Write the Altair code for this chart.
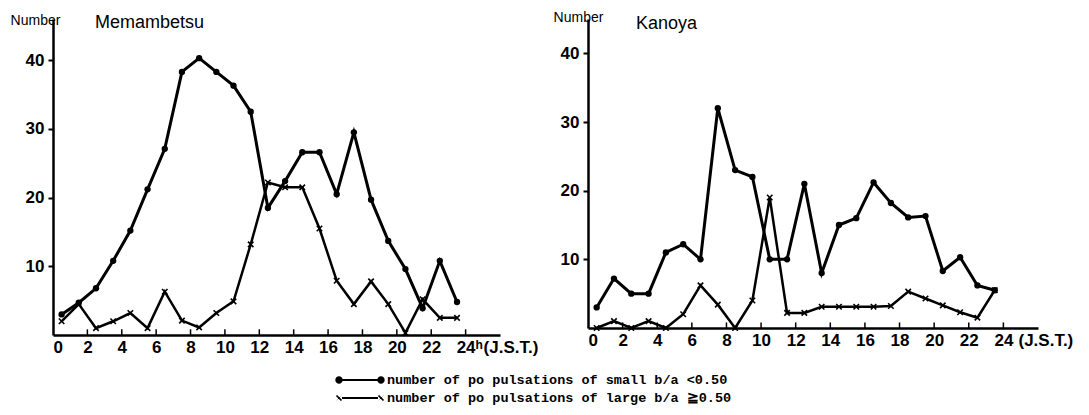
import altair as alt
import pandas as pd

hours = [0.5, 1.5, 2.5, 3.5, 4.5, 5.5, 6.5, 7.5, 8.5, 9.5, 10.5, 11.5,
         12.5, 13.5, 14.5, 15.5, 16.5, 17.5, 18.5, 19.5, 20.5, 21.5, 22.5, 23.5]

mem_small = [3, 4.7, 6.8, 10.8, 15.2, 21.2, 27.1, 38.3, 40.3, 38.3, 36.3, 32.5,
             18.5, 22.4, 26.6, 26.6, 20.5, 29.5, 19.7, 13.7, 9.6, 3.9, 10.8, 4.8]
mem_large = [2, 4.5, 1, 2, 3.2, 1, 6.3, 2.1, 1.1, 3.2, 4.9, 13.2,
             22.2, 21.5, 21.5, 15.5, 7.9, 4.5, 7.8, 4.5, 0.3, 5.2, 2.5, 2.5]

kan_small = [3, 7.2, 5, 5, 11, 12.2, 10, 32, 23, 22, 10, 10,
             21, 8, 15, 16, 21.2, 18.2, 16.1, 16.3, 8.3, 10.3, 6.2, 5.5]
kan_large = [0, 1, 0, 1, 0, 2, 6.2, 3.4, 0, 4, 19, 2.2,
             2.2, 3.1, 3.1, 3.1, 3.1, 3.2, 5.3, 4.3, 3.3, 2.3, 1.5, 5.5]

tick_hours = [2, 4, 6, 8, 10, 12, 14, 16, 18, 20, 22, 24]
x_labels = [0, 2, 4, 6, 8, 10, 12, 14, 16, 18, 20, 22, 24]
y_labels = [10, 20, 30, 40]

SMALL = "number of po pulsations of small b/a <0.50"
LARGE = "number of po pulsations of large b/a \u22670.50"

CROSS = "M-1,-1L1,1M-1,1L1,-1"


def circ(cx, r):
    return "M%g,0a%g,%g 0 1,1 %g,0a%g,%g 0 1,1 %g,0Z" % (cx - r, r, r, 2 * r, r, r, -2 * r)


def diag(a, b, c, d, w):
    return "M%g,%gL%g,%gL%g,%gL%g,%gZ" % (a + w, b - w, c + w, d - w, c - w, d + w, a - w, b + w)


def bar(x0, x1, h):
    return "M%g,%gH%gV%gH%gZ" % (x0, -h, x1, h, x0)


LEG_SMALL = bar(-0.85, 2.65, 0.1) + circ(-1.2, 0.37) + circ(3.0, 0.37)
LEG_LARGE = (bar(-0.9, 2.7, 0.09)
             + diag(-1.45, -0.25, -0.95, 0.25, 0.06) + diag(-1.45, 0.25, -0.95, -0.25, 0.06)
             + diag(2.75, -0.25, 3.25, 0.25, 0.06) + diag(2.75, 0.25, 3.25, -0.25, 0.06))

FONT = "Liberation Sans"


def panel(name, small, large, width, height, ymax, num_x, num_y, name_x, name_y,
          xtitle, xtitle_dx, sup, legend):
    df = pd.DataFrame({
        "hour": hours * 2,
        "value": small + large,
        "series": [SMALL] * len(hours) + [LARGE] * len(hours),
    })
    ticks = pd.DataFrame({"t": tick_hours})

    xscale = alt.Scale(domain=[0, 26], nice=False)
    yscale = alt.Scale(domain=[0, ymax], nice=False)

    xaxis = alt.Axis(values=x_labels, ticks=False, grid=False, domainColor="black",
                     domainWidth=2.5, labelFont=FONT, labelFontSize=17, labelFontWeight="bold",
                     labelColor="black", labelPadding=4, title=xtitle, titleFont=FONT,
                     titleFontSize=17, titleFontWeight="bold", titleColor="black",
                     titleAlign="left", titleBaseline="top", titleX=24 * width / 26 + xtitle_dx,
                     titleY=4, titleAnchor="start")
    yaxis = alt.Axis(values=y_labels, tickSize=5, tickWidth=2, tickColor="black", grid=False,
                     domainColor="black", domainWidth=2.5, labelFont=FONT, labelFontSize=17,
                     labelFontWeight="bold", labelColor="black", labelPadding=4, title="Number",
                     titleAngle=0, titleFont=FONT, titleFontSize=14, titleFontWeight="normal",
                     titleColor="black", titleAlign="center", titleBaseline="alphabetic",
                     titleX=num_x, titleY=num_y)

    base = alt.Chart(df)
    x = alt.X("hour:Q", scale=xscale, axis=xaxis)
    y = alt.Y("value:Q", scale=yscale, axis=yaxis)

    tick_layer = alt.Chart(ticks).mark_rule(color="black", strokeWidth=1.5).encode(
        x=alt.X("t:Q", scale=xscale, axis=xaxis),
        y=alt.datum(0, scale=yscale),
        y2=alt.datum(ymax * 0.018),
    )
    name_layer = alt.Chart(pd.DataFrame({"n": [name]})).mark_text(
        font=FONT, fontSize=18, color="black", align="left", baseline="alphabetic").encode(
        x=alt.value(name_x), y=alt.value(name_y), text="n:N")
    small_line = base.transform_filter(alt.datum.series == SMALL).mark_line(
        color="black", strokeWidth=3).encode(x=x, y=y)
    small_pts = base.transform_filter(alt.datum.series == SMALL).mark_point(
        shape="circle", filled=True, color="black", size=40, opacity=1).encode(x=x, y=y)
    large_line = base.transform_filter(alt.datum.series == LARGE).mark_line(
        color="black", strokeWidth=2.5).encode(x=x, y=y)
    large_pts = base.transform_filter(alt.datum.series == LARGE).mark_point(
        shape=CROSS, filled=False, color="black", size=30, strokeWidth=1.6, opacity=1).encode(x=x, y=y)

    layers = [tick_layer, name_layer, small_line, large_line, small_pts, large_pts]
    if sup:
        sup_layer = alt.Chart(pd.DataFrame({"t": [24], "s": [sup]})).mark_text(
            font=FONT, fontSize=12, fontWeight="bold", color="black", align="left",
            baseline="top", dx=10, dy=5).encode(x=alt.X("t:Q", scale=xscale, axis=xaxis),
                                                y=alt.datum(0, scale=yscale), text="s:N")
        layers.append(sup_layer)
    if legend:
        leg = base.transform_filter("false").mark_point(
            filled=True, color="black", opacity=1).encode(
            x=x, y=y,
            shape=alt.Shape("series:N",
                            scale=alt.Scale(domain=[SMALL, LARGE], range=[LEG_SMALL, LEG_LARGE]),
                            legend=alt.Legend(title=None, orient="none", legendX=288, legendY=351,
                                              symbolSize=400, symbolStrokeWidth=0,
                                              symbolFillColor="black",
                                              symbolOpacity=1, labelOffset=26,
                                              labelFont="Liberation Mono", labelFontWeight="bold",
                                              labelFontSize=13.5, labelColor="black", labelLimit=600,
                                              rowPadding=1)))
        layers.append(leg)

    return alt.layer(*layers).properties(width=width, height=height)


left = panel("Memambetsu", mem_small, mem_large, 447, 316, 46, -18, 5, 42, 9,
             "(J.S.T.)", 17.5, "h", True)
right = panel("Kanoya", kan_small, kan_large, 450, 309, 45, -10, 2, 48, 10,
              "(J.S.T.)", 14.6, None, False)

chart = alt.hconcat(left, right, spacing=15).configure(
    padding={"left": 2, "top": 2, "right": 0, "bottom": 0}, background="white"
).configure_view(stroke=None)

chart.save("out.html", embed_options={"renderer": "svg", "actions": False})
